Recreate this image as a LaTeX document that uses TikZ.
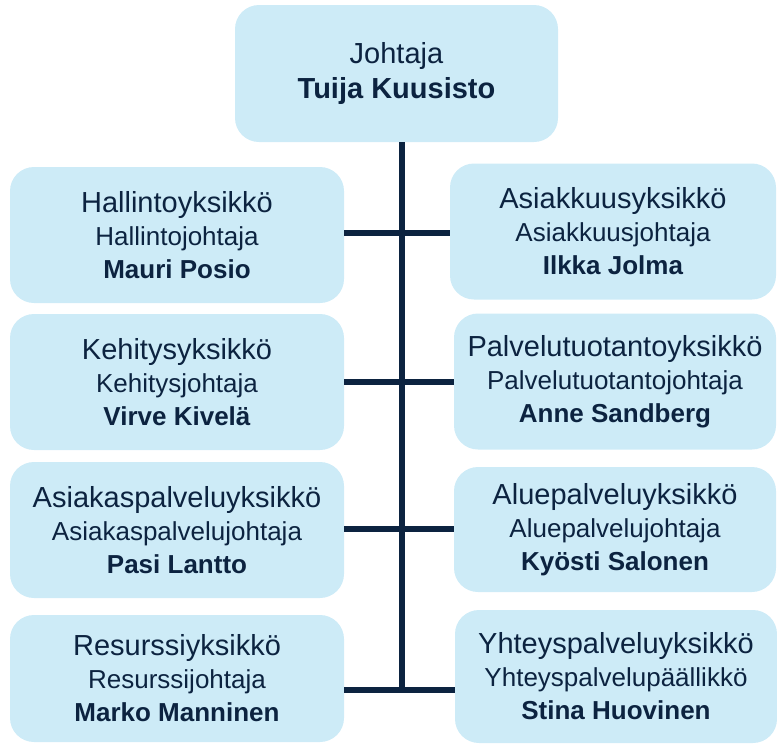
\documentclass[tikz,border=0pt]{standalone}
\usepackage{fontspec}
\setmainfont{Liberation Sans}
\definecolor{boxblue}{HTML}{CDEBF7}
\definecolor{navy}{HTML}{0C2340}
\newcommand{\yksikko}[3]{{\fontsize{14.5}{16.5}\selectfont #1}\\#2\\\textbf{#3}}

\begin{document}
\begin{tikzpicture}[x=0.5pt, y=-0.5pt,
    box/.style={fill=boxblue, rounded corners=12pt, text=navy, align=center,
      minimum height=68pt, font=\fontsize{13}{16.5}\selectfont},
    leftbox/.style={box, minimum width=167pt},
    rightbox/.style={box, minimum width=161pt},
    link/.style={draw=navy, line width=3pt}]
    \useasboundingbox (0,0) rectangle (777,745);
    \node [box, minimum width=161.5pt, minimum height=68.5pt,
      font=\fontsize{14.5}{17.5}\selectfont] (johtaja) at (396.5,73.5)
      {Johtaja\\\textbf{Tuija Kuusisto}};
    % vasen sarake
    \node [leftbox] (hallinto) at (177,235)
      {\yksikko{Hallintoyksikkö}{Hallintojohtaja}{Mauri Posio}};
    \node [leftbox] (kehitys) at (177,382)
      {\yksikko{Kehitysyksikkö}{Kehitysjohtaja}{Virve Kivelä}};
    \node [leftbox] (asiakaspalvelu) at (177,530)
      {\yksikko{Asiakaspalveluyksikkö}{Asiakaspalvelujohtaja}{Pasi Lantto}};
    \node [leftbox, minimum height=63.5pt] (resurssi) at (177,678.5)
      {\yksikko{Resurssiyksikkö}{Resurssijohtaja}{Marko Manninen}};
    % oikea sarake
    \node [rightbox, minimum width=163pt] (asiakkuus) at (613,231.5)
      {\yksikko{Asiakkuusyksikkö}{Asiakkuusjohtaja}{Ilkka Jolma}};
    \node [rightbox] (palvelutuotanto) at (615,381.5)
      {\yksikko{Palvelutuotantoyksikkö}{Palvelutuotantojohtaja}{Anne Sandberg}};
    \node [rightbox, minimum height=62.5pt] (aluepalvelu) at (615,529.5)
      {\yksikko{Aluepalveluyksikkö}{Aluepalvelujohtaja}{Kyösti Salonen}};
    \node [rightbox, minimum height=66.5pt] (yhteyspalvelu) at (616,676.5)
      {\yksikko{Yhteyspalveluyksikkö}{Yhteyspalvelupäällikkö}{Stina Huovinen}};
    % liitokset
    \coordinate (j1) at (402,233);
    \coordinate (j2) at (402,382);
    \coordinate (j3) at (402,529);
    \coordinate (j4) at (402,690);
    \draw [link] (johtaja.south -| j4) -- (j4);
    \draw [link] (hallinto.east |- j1) -- (asiakkuus.west |- j1);
    \draw [link] (kehitys.east |- j2) -- (palvelutuotanto.west |- j2);
    \draw [link] (asiakaspalvelu.east |- j3) -- (aluepalvelu.west |- j3);
    \draw [link] (resurssi.east |- j4) -- (yhteyspalvelu.west |- j4);
\end{tikzpicture}
\end{document}
